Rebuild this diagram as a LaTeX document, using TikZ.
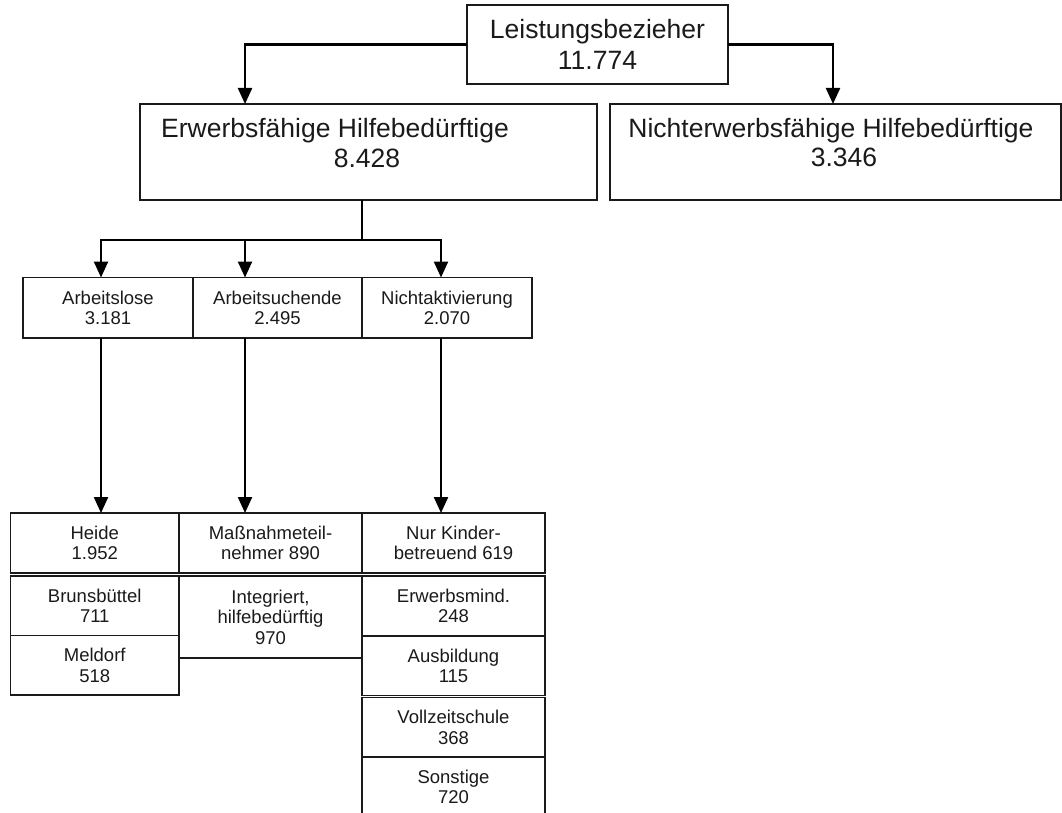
\documentclass[tikz,border=0pt]{standalone}
\usepackage{fontspec}
\setmainfont{Liberation Sans}
\usetikzlibrary{arrows.meta,positioning}
\definecolor{ink}{HTML}{1A1A1A}
\tikzset{
  box/.style={draw=ink, line width=1.4pt, inner sep=0pt, outer sep=0pt, align=center, text=ink},
  bigtxt/.style={font=\fontsize{26.5}{31}\selectfont, text=ink},
  smalltxt/.style={font=\fontsize{18.5}{20.5}\selectfont, text=ink},
  conn/.style={draw=black, line width=2.3pt},
  arr/.style={conn, -{Triangle[width=14pt,length=16pt]}}
}
\begin{document}
\begin{tikzpicture}[x=1pt,y=-1pt]
\useasboundingbox (0,0) rectangle (1062,813);
% top
\node[box, bigtxt, minimum width=261pt, minimum height=79pt] (top) at (597.5,44.5) {Leistungsbezieher\\11.774};
\node[box, minimum width=457pt, minimum height=96pt] (erw) at (368.5,152) {};
\node[box, minimum width=451pt, minimum height=96pt] (nicht) at (835.5,152) {};
\node[bigtxt, anchor=base, inner sep=0pt] (erwt) at (335,137.5) {Erwerbsfähige Hilfebedürftige};
\node[bigtxt, anchor=base, inner sep=0pt] (erwn) at (367,167.5) {8.428};
\node[bigtxt, anchor=base, inner sep=0pt] (nichtt) at (831,137.5) {Nichterwerbsfähige Hilfebedürftige};
\node[bigtxt, anchor=base, inner sep=0pt] (nichtn) at (844,167) {3.346};
% middle row
\node[box, smalltxt, minimum width=170pt, minimum height=60.5pt] (A) at (108,307.75) {Arbeitslose\\3.181};
\node[box, smalltxt, minimum width=169pt, minimum height=60.5pt] (B) at (277.5,307.75) {Arbeitsuchende\\2.495};
\node[box, smalltxt, minimum width=170pt, minimum height=60.5pt] (C) at (447,307.75) {Nichtaktivierung\\2.070};
% bottom left column
\node[box, smalltxt, minimum width=168.5pt, minimum height=60pt] (L1) at (94.75,543) {Heide\\1.952};
\node[box, smalltxt, minimum width=168.5pt, minimum height=59.5pt] (L2) at (94.75,605.75) {Brunsbüttel\\711};
\node[box, smalltxt, minimum width=168.5pt, minimum height=59.5pt] (L3) at (94.75,665.25) {Meldorf\\518};
% bottom middle column
\node[box, smalltxt, minimum width=183pt, minimum height=60pt] (M1) at (270.5,543) {Maßnahmeteil-\\nehmer 890};
\node[box, smalltxt, minimum width=183pt, minimum height=82pt] (M2) at (270.5,617) {Integriert,\\hilfebedürftig\\970};
% bottom right column
\node[box, smalltxt, minimum width=183pt, minimum height=60pt] (R1) at (453.5,543) {Nur Kinder-\\betreuend 619};
\node[box, smalltxt, minimum width=183pt, minimum height=60pt] (R2) at (453.5,606) {Erwerbsmind.\\248};
\node[box, smalltxt, minimum width=183pt, minimum height=59.5pt] (R3) at (453.5,665.75) {Ausbildung\\115};
\node[box, smalltxt, minimum width=183pt, minimum height=59.5pt] (R4) at (453.5,727.25) {Vollzeitschule\\368};
\node[box, minimum width=183pt, minimum height=70pt] (R5) at (453.5,792) {};
\node[smalltxt, align=center, inner sep=0pt] (R5t) at (453.5,787) {Sonstige\\720};
% connectors
\draw[arr] (top.west) -| ([xshift=-123.5pt]erw.north);
\draw[arr] (top.east) -| ([xshift=-2.5pt]nicht.north);
\coordinate (split) at (362,240);
\draw[conn] (erw.south -| split) -- (split);
\draw[arr] (split) -| ([xshift=-7pt]A.north);
\draw[arr] (split) -| ([xshift=-32.5pt]B.north);
\draw[arr] (split) -| ([xshift=-6pt]C.north);
\draw[arr] ([xshift=-7pt]A.south) -- ([xshift=-7pt]A.south |- L1.north);
\draw[arr] ([xshift=-32.5pt]B.south) -- ([xshift=-32.5pt]B.south |- M1.north);
\draw[arr] ([xshift=-6pt]C.south) -- ([xshift=-6pt]C.south |- R1.north);
\end{tikzpicture}
\end{document}
